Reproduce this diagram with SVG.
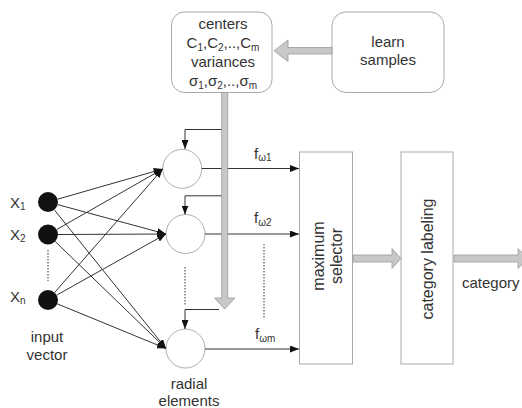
<svg xmlns="http://www.w3.org/2000/svg" width="522" height="408" viewBox="0 0 522 408">
<defs>
<style>
text{font-family:"Liberation Sans",Arial,sans-serif;fill:#333;font-size:15px}
.rot{font-size:16px}
.sub{font-size:10px}
.box{fill:#fff;stroke:#aaa;stroke-width:1}
.neuron{fill:#fff;stroke:#999;stroke-width:0.8}
.in{fill:#111}
.ln{stroke:#333;stroke-width:1;fill:none}
.dot{stroke:#333;stroke-width:1;stroke-dasharray:1.5 1.5;fill:none}
.big{fill:#c8c8c8;stroke:#9a9a9a;stroke-width:0.8}
</style>
<marker id="ah" viewBox="0 0 9 7" refX="9" refY="3.5" markerWidth="9" markerHeight="7" markerUnits="userSpaceOnUse" orient="auto">
<path d="M0,0 L9,3.5 L0,7 z" fill="#111"/>
</marker>
</defs>

<g id="centers">
<rect class="box" x="171.5" y="12" width="100.5" height="80.5" rx="13" stroke="#999"/>
<text x="223" y="29" text-anchor="middle">centers</text>
<text x="223" y="48" text-anchor="middle">C<tspan class="sub" dy="3">1</tspan><tspan dy="-3">,C</tspan><tspan class="sub" dy="3">2</tspan><tspan dy="-3">,..,C</tspan><tspan class="sub" dy="3">m</tspan></text>
<text x="223" y="67" text-anchor="middle">variances</text>
<text x="223" y="86" text-anchor="middle">σ<tspan class="sub" dy="3">1</tspan><tspan dy="-3">,σ</tspan><tspan class="sub" dy="3">2</tspan><tspan dy="-3">,..,σ</tspan><tspan class="sub" dy="3">m</tspan></text>
</g>

<g id="learn">
<rect class="box" x="332" y="12" width="112" height="80.5" rx="14" stroke="#999"/>
<text x="388" y="46.5" text-anchor="middle">learn</text>
<text x="388" y="64.5" text-anchor="middle">samples</text>
</g>

<g id="inputs">
<circle id="x1" class="in" cx="48" cy="202" r="10"/>
<circle id="x2" class="in" cx="48" cy="234.5" r="10"/>
<circle id="xn" class="in" cx="48" cy="300" r="10"/>
<text x="10" y="207.5">X<tspan class="sub" dy="2">1</tspan></text>
<text x="10" y="239.5">X<tspan class="sub" dy="2">2</tspan></text>
<text x="10" y="302">X<tspan class="sub" dy="2">n</tspan></text>
<text x="47" y="341.5" text-anchor="middle">input</text>
<text x="47" y="360" text-anchor="middle">vector</text>
</g>

<g id="radial">
<circle id="r1" class="neuron" cx="182.2" cy="168.8" r="19.5"/>
<circle id="r2" class="neuron" cx="185.5" cy="234" r="19.5"/>
<circle id="r3" class="neuron" cx="185.5" cy="348.5" r="19.5"/>
<text x="189" y="389" text-anchor="middle">radial</text>
<text x="189" y="406" text-anchor="middle">elements</text>
</g>

<g id="maxsel">
<rect class="box" x="299.5" y="152" width="53" height="212"/>
<text class="rot" transform="translate(323.5,256) rotate(-90)" text-anchor="middle">maximum</text>
<text class="rot" transform="translate(341.5,256) rotate(-90)" text-anchor="middle">selector</text>
</g>

<g id="catlab">
<rect class="box" x="401" y="152" width="52" height="212"/>
<text class="rot" transform="translate(433,259) rotate(-90)" text-anchor="middle">category labeling</text>
</g>

<g id="outlabel">
<text x="462" y="288">category</text>
</g>

<g id="connectors">
<line class="ln" x1="57.6" y1="199.2" x2="162.7" y2="169" marker-end="url(#ah)"/>
<line class="ln" x1="57.6" y1="204.6" x2="166" y2="234" marker-end="url(#ah)"/>
<line class="ln" x1="54.3" y1="209.8" x2="166" y2="348.5" marker-end="url(#ah)"/>
<line class="ln" x1="56.7" y1="229.5" x2="162.7" y2="169" marker-end="url(#ah)"/>
<line class="ln" x1="58" y1="234.5" x2="166" y2="234" marker-end="url(#ah)"/>
<line class="ln" x1="55.2" y1="241.5" x2="166" y2="348.5" marker-end="url(#ah)"/>
<line class="ln" x1="54.6" y1="292.5" x2="162.7" y2="169" marker-end="url(#ah)"/>
<line class="ln" x1="56.7" y1="295.1" x2="166" y2="234" marker-end="url(#ah)"/>
<line class="ln" x1="57.2" y1="303.8" x2="166" y2="348.5" marker-end="url(#ah)"/>
<line class="dot" x1="48" y1="250" x2="48" y2="281"/>
<line class="dot" x1="185" y1="267" x2="185" y2="305"/>
<line class="dot" x1="264" y1="244" x2="264" y2="318"/>
<line class="ln" x1="201.7" y1="168.5" x2="299" y2="168.5" marker-end="url(#ah)"/>
<line class="ln" x1="205" y1="234" x2="299" y2="234" marker-end="url(#ah)"/>
<line class="ln" x1="205" y1="349" x2="299" y2="349" marker-end="url(#ah)"/>
<polyline class="ln" points="222,129.5 185,129.5 185,149" marker-end="url(#ah)"/>
<polyline class="ln" points="222,195.8 185,195.8 185,214.5" marker-end="url(#ah)"/>
<polyline class="ln" points="219,309.5 185,309.5 185,329" marker-end="url(#ah)"/>
<polygon class="big" points="221.7,92.5 227.7,92.5 227.7,298 235,298 224.7,309 214.5,298 221.7,298"/>
<polygon class="big" points="332,47.5 288,47.5 288,40 274,50.8 288,61.5 288,54 332,54"/>
<polygon class="big" points="353,255 392,255 392,248.5 401,258.5 392,268.5 392,262 353,262"/>
<polygon class="big" points="454,255 518,255 518,248.5 528,258.5 518,268.5 518,262 454,262"/>
<text x="254" y="158.5">f<tspan class="sub" dy="2.5">ω1</tspan></text>
<text x="254" y="223">f<tspan class="sub" dy="2.5">ω2</tspan></text>
<text x="255" y="339">f<tspan class="sub" dy="2.5">ωm</tspan></text>
</g>
</svg>
